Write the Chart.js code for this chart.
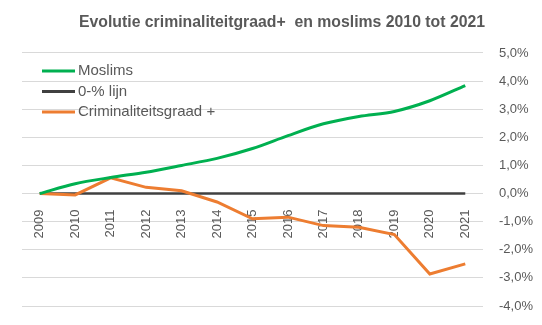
<!DOCTYPE html>
<html>
<head>
<meta charset="utf-8">
<script src="https://cdn.jsdelivr.net/npm/chart.js@4"></script>
<style>
  html, body { margin: 0; padding: 0; background: #fff; }
  #wrap { width: 542px; height: 325px; }
</style>
</head>
<body>
<div id="wrap"><canvas id="myChart"></canvas></div>
<script>
// jaren en reeksen (procent t.o.v. 2009)
const jaren = ['2009', '2010', '2011', '2012', '2013', '2014', '2015', '2016', '2017', '2018', '2019', '2020', '2021'];
const moslims = [0, 0.35, 0.57, 0.76, 1.0, 1.25, 1.6, 2.06, 2.48, 2.74, 2.92, 3.3, 3.84];
const nulLijn = [0, 0, 0, 0, 0, 0, 0, 0, 0, 0, 0, 0, 0];
const criminaliteit = [0, -0.05, 0.56, 0.22, 0.1, -0.3, -0.9, -0.84, -1.14, -1.2, -1.46, -2.86, -2.5];

const grijs = '#595959';
const lettertype = 'Liberation Sans';

// legenda binnen het grafiekvlak, linksboven
const legendaBinnen = {
  id: 'legendaBinnen',
  afterDraw(chart) {
    const ctx = chart.ctx;
    const area = chart.chartArea;
    const x0 = area.left + 20;
    let y = area.top + 18;
    ctx.save();
    ctx.font = '15px "' + lettertype + '"';
    ctx.textBaseline = 'middle';
    chart.data.datasets.forEach((ds) => {
      ctx.strokeStyle = ds.borderColor;
      ctx.lineWidth = 3;
      ctx.beginPath();
      ctx.moveTo(x0, y);
      ctx.lineTo(x0 + 33, y);
      ctx.stroke();
      ctx.fillStyle = grijs;
      ctx.fillText(ds.label, x0 + 36, y);
      y += 20.5;
    });
    ctx.restore();
  }
};

const config = {
  type: 'line',
  data: {
    labels: jaren,
    datasets: [{
      label: 'Moslims',
      data: moslims,
      borderColor: '#00B050',
      backgroundColor: '#00B050',
      borderWidth: 3,
      pointRadius: 0,
      tension: 0.3,
      order: 0
    }, {
      label: '0-% lijn',
      data: nulLijn,
      borderColor: '#404040',
      backgroundColor: '#404040',
      borderWidth: 2.5,
      pointRadius: 0,
      order: 2
    }, {
      label: 'Criminaliteitsgraad +',
      data: criminaliteit,
      borderColor: '#ED7D31',
      backgroundColor: '#ED7D31',
      borderWidth: 3,
      pointRadius: 0,
      tension: 0,
      order: 1
    }]
  },
  options: {
    responsive: true,
    maintainAspectRatio: false,
    animation: false,
    layout: {
      padding: { left: 22, right: 0, top: 0, bottom: 19 }
    },
    plugins: {
      title: {
        display: true,
        text: 'Evolutie criminaliteitgraad+  en moslims 2010 tot 2021',
        color: grijs,
        font: { family: lettertype, size: 15.8, weight: 'bold' },
        padding: { top: 13, bottom: 21 }
      },
      legend: { display: false },
      tooltip: { enabled: false }
    },
    scales: {
      x: {
        position: { y: 0 },
        offset: true,
        grid: { display: false },
        border: { display: false },
        afterFit: (scale) => { scale.paddingTop = 0; scale.paddingBottom = 0; },
        ticks: {
          color: grijs,
          font: { family: lettertype, size: 13 },
          minRotation: 90,
          maxRotation: 90,
          padding: 8
        }
      },
      y: {
        position: 'right',
        min: -4,
        max: 5,
        grid: { color: '#d9d9d9', drawTicks: false },
        border: { display: false },
        afterFit: (scale) => { scale.width = 59; scale.paddingBottom = 0; },
        ticks: {
          stepSize: 1,
          color: grijs,
          padding: 16,
          font: { family: lettertype, size: 13 },
          callback: (v) => v.toFixed(1).replace('.', ',') + '%'
        }
      }
    }
  },
  plugins: [legendaBinnen]
};

new Chart(document.getElementById('myChart'), config);
</script>
</body>
</html>
